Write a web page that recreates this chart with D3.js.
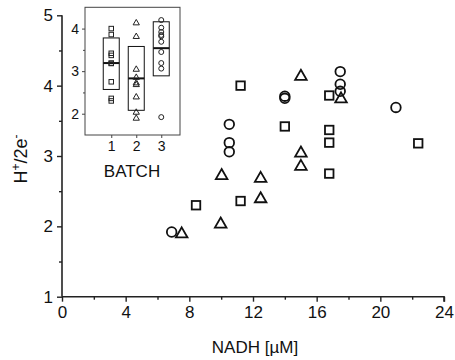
<!DOCTYPE html>
<html><head><meta charset="utf-8">
<script src="https://cdn.jsdelivr.net/npm/d3@7"></script>
<style>
html,body{margin:0;padding:0;background:#fff;}
svg{display:block;font-family:"Liberation Sans",Arial,Helvetica,sans-serif;}
</style></head>
<body>
<script>
// ---- data ----
const batch1X = [8.42, 11.22, 11.22, 14.0, 16.79, 16.79, 16.79, 16.79, 22.38];   // squares
const batch1Y = [2.30, 2.36, 4.00, 3.42, 3.86, 3.37, 3.19, 2.75, 3.18];
const batch2X = [7.52, 9.97, 10.03, 12.48, 12.48, 15.01, 15.01, 15.01, 17.53];  // triangles
const batch2Y = [1.89, 2.03, 2.72, 2.68, 2.39, 4.13, 3.04, 2.85, 3.81];
const batch3X = [6.89, 10.51, 10.51, 10.51, 14.0, 14.0, 17.48, 17.48, 17.48, 20.98]; // circles
const batch3Y = [1.92, 3.45, 3.19, 3.06, 3.85, 3.82, 4.20, 4.02, 3.92, 3.69];
const batches = [1, 2, 3];
const boxMean = [3.19, 2.83, 3.54];
const boxLow  = [2.57, 2.08, 2.89];
const boxHigh = [3.78, 3.58, 4.16];
const xTicks = [0, 4, 8, 12, 16, 20, 24];
const xMinor = [2, 6, 10, 14, 18, 22];
const yTicks = [1, 2, 3, 4, 5];
const yMinor = [1.5, 2.5, 3.5, 4.5];
const insetYTicks = [2, 3, 4];
const insetYMinor = [2.5, 3.5];

const W = 455, H = 360;
const svg = d3.select("body").append("svg").attr("width", W).attr("height", H);

const x = d3.scaleLinear().domain([0, 24]).range([62, 444]);
const y = d3.scaleLinear().domain([1, 5]).range([296.7, 15.3]);

const axisColor = "#222";

// main axes
const gx = svg.append("g").attr("transform", `translate(0,${y(1)})`)
  .call(d3.axisBottom(x).tickValues(xTicks).tickSize(5).tickPadding(4).tickFormat(d3.format("d")));
svg.append("g").attr("transform", `translate(0,${y(1)})`)
  .call(d3.axisBottom(x).tickValues(xMinor).tickSize(3).tickFormat(""))
  .call(g => g.select(".domain").remove());
const gy = svg.append("g").attr("transform", `translate(${x(0)},0)`)
  .call(d3.axisLeft(y).tickValues(yTicks).tickSize(5).tickPadding(4).tickFormat(d3.format("d")));
svg.append("g").attr("transform", `translate(${x(0)},0)`)
  .call(d3.axisLeft(y).tickValues(yMinor).tickSize(3).tickFormat(""))
  .call(g => g.select(".domain").remove());

svg.selectAll(".domain").attr("stroke", axisColor).attr("stroke-width", 1.6);
svg.selectAll(".tick line").attr("stroke", axisColor).attr("stroke-width", 1.4);
gx.selectAll(".domain").attr("d", `M${x(0)},0H${x(24)}V5`);
gy.selectAll(".domain").attr("d", `M0,${y(5)}V${y(1)}`);
gx.selectAll(".tick text").attr("font-size", 17).attr("fill", "#111").attr("font-family", "Liberation Sans, Arial, sans-serif");
gy.selectAll(".tick text").attr("font-size", 17).attr("fill", "#111").attr("font-family", "Liberation Sans, Arial, sans-serif");

// axis titles
svg.append("text").attr("x", 255).attr("y", 353).attr("text-anchor", "middle")
  .attr("font-size", 17).attr("fill", "#111").text("NADH [\u00b5M]");
const yl = svg.append("text").attr("transform", "translate(27,159) rotate(-90)")
  .attr("text-anchor", "middle").attr("font-size", 18).attr("fill", "#111");
yl.append("tspan").text("H");
yl.append("tspan").attr("font-size", 12).attr("dy", -7).text("+");
yl.append("tspan").attr("dy", 7).text("/2e");
yl.append("tspan").attr("font-size", 12).attr("dy", -7).text("-");

// main markers
const mk = svg.append("g").attr("fill", "none").attr("stroke", "#111").attr("stroke-width", 1.8);
const sq = 8.5;
mk.selectAll("rect.m").data(d3.zip(batch1X, batch1Y)).join("rect")
  .attr("x", d => x(d[0]) - sq/2).attr("y", d => y(d[1]) - sq/2)
  .attr("width", sq).attr("height", sq);
const tri = d3.symbol().type(d3.symbolTriangle).size(58);
mk.selectAll("path.m").data(d3.zip(batch2X, batch2Y)).join("path")
  .attr("transform", d => `translate(${x(d[0])},${y(d[1])})`).attr("d", tri);
mk.selectAll("circle.m").data(d3.zip(batch3X, batch3Y)).join("circle")
  .attr("cx", d => x(d[0])).attr("cy", d => y(d[1])).attr("r", 4.8);

// ---- inset ----
const ix = d3.scaleLinear().domain([-0.05, 3.75]).range([85, 180]);
const iy = d3.scaleLinear().domain([1.5, 4.5]).range([135, 7.3]);
const inset = svg.append("g");
inset.append("rect").attr("x", ix.range()[0]).attr("y", iy.range()[1])
  .attr("width", ix.range()[1] - ix.range()[0]).attr("height", iy.range()[0] - iy.range()[1])
  .attr("fill", "#fff").attr("stroke", "#444").attr("stroke-width", 1);

const ixa = inset.append("g").attr("transform", `translate(0,${iy(1.5)})`)
  .call(d3.axisBottom(ix).tickValues(batches).tickSize(3).tickPadding(3).tickFormat(d3.format("d")));
const iya = inset.append("g").attr("transform", `translate(${ix(-0.05)},0)`)
  .call(d3.axisLeft(iy).tickValues(insetYTicks).tickSize(3).tickPadding(3).tickFormat(d3.format("d")));
inset.append("g").attr("transform", `translate(${ix(-0.05)},0)`)
  .call(d3.axisLeft(iy).tickValues(insetYMinor).tickSize(2).tickFormat(""))
  .call(g => g.select(".domain").remove());
inset.selectAll(".domain").remove();
inset.selectAll(".tick line").attr("stroke", "#444").attr("stroke-width", 1);
inset.selectAll(".tick text").attr("font-size", 14).attr("fill", "#111").attr("font-family", "Liberation Sans, Arial, sans-serif");
inset.append("text").attr("x", 132).attr("y", 177).attr("text-anchor", "middle")
  .attr("font-size", 17).attr("fill", "#111").text("BATCH");

// boxes
const bw = 0.32;
inset.selectAll("rect.box").data(batches).join("rect")
  .attr("x", (d, i) => ix(d - bw)).attr("width", (d, i) => ix(d + bw) - ix(d - bw))
  .attr("y", (d, i) => iy(boxHigh[i])).attr("height", (d, i) => iy(boxLow[i]) - iy(boxHigh[i]))
  .attr("fill", "none").attr("stroke", "#111").attr("stroke-width", 1);
inset.selectAll("line.mean").data(batches).join("line")
  .attr("x1", d => ix(d - bw)).attr("x2", d => ix(d + bw))
  .attr("y1", (d, i) => iy(boxMean[i])).attr("y2", (d, i) => iy(boxMean[i]))
  .attr("stroke", "#111").attr("stroke-width", 2);

const im = inset.append("g").attr("fill", "none").attr("stroke", "#222").attr("stroke-width", 1);
const isq = 4.5;
im.selectAll("rect.p").data(batch1Y).join("rect")
  .attr("x", ix(1) - isq/2).attr("y", d => iy(d) - isq/2).attr("width", isq).attr("height", isq);
const itri = d3.symbol().type(d3.symbolTriangle).size(17);
im.selectAll("path.p").data(batch2Y).join("path")
  .attr("transform", d => `translate(${ix(2)},${iy(d)})`).attr("d", itri);
im.selectAll("circle.p").data(batch3Y).join("circle")
  .attr("cx", ix(3)).attr("cy", d => iy(d)).attr("r", 2.5);
</script>
</body></html>
